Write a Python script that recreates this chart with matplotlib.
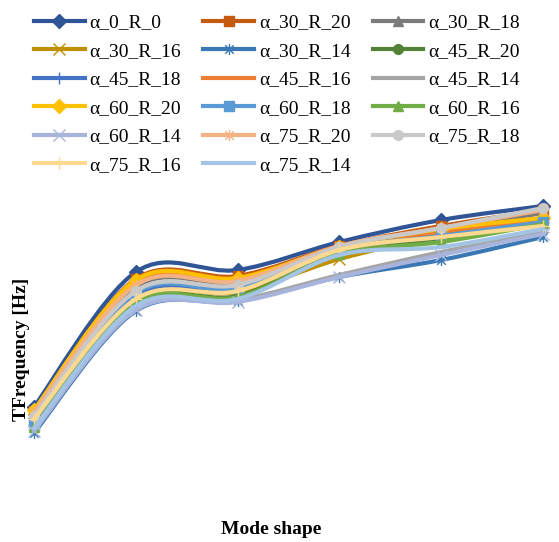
import numpy as np
import matplotlib
matplotlib.use("Agg")
import matplotlib.pyplot as plt
from matplotlib.path import Path
from matplotlib.patches import PathPatch
from matplotlib.lines import Line2D

plt.rcParams["font.family"] = ["Liberation Serif", "DejaVu Serif"]

modes = [1, 2, 3, 4, 5, 6]

names = [
    "α_0_R_0", "α_30_R_20", "α_30_R_18", "α_30_R_16", "α_30_R_14",
    "α_45_R_20", "α_45_R_18", "α_45_R_16", "α_45_R_14",
    "α_60_R_20", "α_60_R_18", "α_60_R_16", "α_60_R_14",
    "α_75_R_20", "α_75_R_18", "α_75_R_16", "α_75_R_14",
]

# values (no tick labels in the original, arbitrary Hz scale)
a0_r0 = [43, 178, 180, 208, 230, 244]
a30_r20 = [39, 171, 174, 204, 224, 240]
a30_r18 = [35, 163, 168, 202, 220, 237]
a30_r16 = [30, 150, 158, 191, 214, 228]
a30_r14 = [17, 139, 149, 173, 190, 213]
a45_r20 = [26, 148, 154, 197, 210, 229]
a45_r18 = [32, 154, 161, 199, 217, 232]
a45_r16 = [36, 167, 170, 197, 218, 228]
a45_r14 = [20, 141, 150, 175, 198, 218]
a60_r20 = [40, 170, 172, 203, 221, 232]
a60_r18 = [28, 157, 162, 200, 214, 228]
a60_r16 = [23, 147, 153, 196, 208, 226]
a60_r14 = [19, 140, 148, 173, 195, 216]
a75_r20 = [38, 165, 169, 204, 222, 240]
a75_r18 = [34, 159, 165, 203, 222, 242]
a75_r16 = [31, 151, 159, 200, 213, 224]
a75_r14 = [22, 144, 151, 195, 203, 221]

series = [a0_r0, a30_r20, a30_r18, a30_r16, a30_r14, a45_r20, a45_r18, a45_r16,
          a45_r14, a60_r20, a60_r18, a60_r16, a60_r14, a75_r20, a75_r18, a75_r16,
          a75_r14]

colors = [
    "#2F5597", "#C55A11", "#7B7B7B", "#BF9000", "#3A78B5", "#538135",
    "#4472C4", "#ED7D31", "#A5A5A5", "#FFC000", "#5B9BD5", "#70AD47",
    "#A9B4DC", "#F4B183", "#C9C9C9", "#FFD98F", "#A4C4E6",
]

star = Path([(-1, -1), (1, 1), (-1, 1), (1, -1), (0, -1.3), (0, 1.3)],
            [Path.MOVETO, Path.LINETO, Path.MOVETO, Path.LINETO, Path.MOVETO, Path.LINETO])
markers = ["D", "s", "^", "x", star, "o", "+", "_", "_",
           "D", "s", "^", "x", star, "o", "+", "_"]


def smooth_path(x, y):
    # Excel-like smoothed line: cubic bezier through every point
    pts = np.column_stack([x, y]).astype(float)
    ext = np.vstack([pts[0], pts, pts[-1]])
    verts = [pts[0]]
    codes = [Path.MOVETO]
    for i in range(len(pts) - 1):
        p0, p1, p2, p3 = ext[i], ext[i + 1], ext[i + 2], ext[i + 3]
        verts += [p1 + (p2 - p0) / 6, p2 - (p3 - p1) / 6, p2]
        codes += [Path.CURVE4] * 3
    return Path(verts, codes)


fig = plt.figure(figsize=(5.59, 5.42), dpi=100)
ax = fig.add_axes([20 / 559, 97 / 542, 535 / 559, 255 / 542])
ax.set_xlim(0.8625, 6.118)
ax.set_ylim(5, 260)
ax.axis("off")

handles = []
for i, (name, vals, col, mk) in enumerate(zip(names, series, colors, markers)):
    ax.add_patch(PathPatch(smooth_path(modes, vals), fc="none", ec=col, lw=3,
                           capstyle="round", joinstyle="round", zorder=2 + i * 0.1))
    ms = 7 if mk in ("D", "s", "^", "o") else 8
    ax.plot(modes, vals, ls="none", marker=mk, ms=ms, color=col, mec=col, mew=1,
            zorder=2.05 + i * 0.1, clip_on=False)
    handles.append(Line2D([], [], color=col, lw=3, marker=mk, ms=ms, mec=col, mew=1))

# legend fills row by row in the original; matplotlib fills columns
ncol, nrow = 3, 6
order = [r * ncol + c for c in range(ncol) for r in range(nrow) if r * ncol + c < len(names)]
fig.legend([handles[k] for k in order], [names[k] for k in order],
           loc="upper left", bbox_to_anchor=(34 / 559, 1 - 14 / 542),
           ncol=ncol, frameon=False, fontsize=14, handlelength=2.6, handletextpad=0.25,
           columnspacing=1.15, labelspacing=0.56, borderpad=0, borderaxespad=0)

fig.text(22 / 559, 1 - 349 / 542, "TFrequency [Hz]", rotation=90, ha="center",
         va="center", fontsize=14, fontweight="bold")
fig.text(271 / 559, 1 - 529 / 542, "Mode shape", ha="center", va="center",
         fontsize=14, fontweight="bold")

fig.savefig("out.png", dpi=100)
